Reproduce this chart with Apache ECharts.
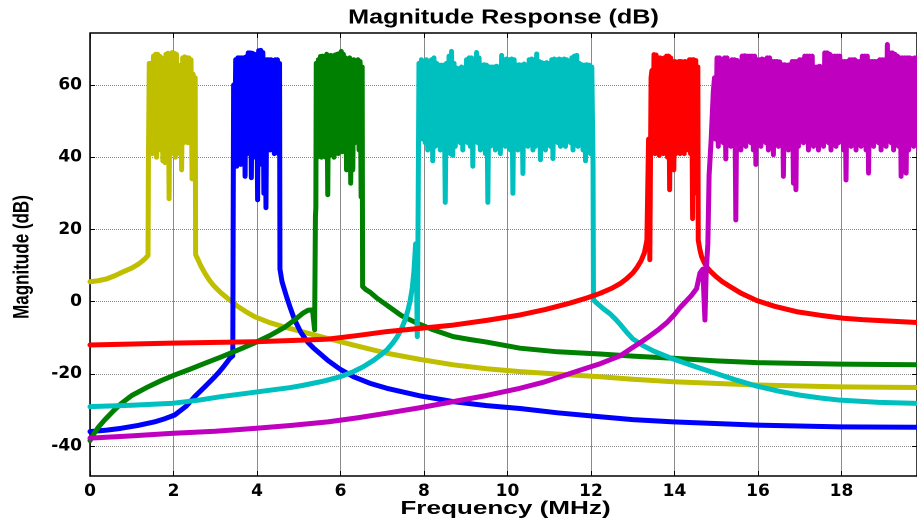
<!DOCTYPE html>
<html><head><meta charset="utf-8">
<script src="https://cdn.jsdelivr.net/npm/echarts@6/dist/echarts.min.js"></script>
<style>html,body{margin:0;padding:0;background:#fff}#c{width:917px;height:522px}</style>
</head><body><div id="c"></div>
<script>
// ---- data (frequency in MHz, magnitude in dB) ----
const xTicks = [0, 2, 4, 6, 8, 10, 12, 14, 16, 18];
const yTicks = [-40, -20, 0, 20, 40, 60];

const yellowLeft = [[0,5.5],[0.2,5.8],[0.4,6.3],[0.6,7.2],[0.8,8.3],[1.0,9.3],[1.15,10.3],[1.25,11.2],
  [1.33,12],[1.39,12.8],[1.40,40]];
const yellowPassRange = [1.42, 2.52];
const yellowPass = [66,42,66,41,68,44,68.5,40,68.5,45, 68,42,67.5,39,66.5,38.5,68.5,40,68.8,28.5,
  68.5,41,69,43,68.8,40,68.5,46,65.2,41, 65.5,36.5,67.5,44,67.8,45,67.5,44,67.5,46, 67,34,63,40,62];
const yellowRight = [[2.53,13],[2.58,11.8],[2.65,10],[2.75,7.9],[2.85,6.1],[2.95,4.6],[3.05,3.4],[3.14,2.4],
  [3.35,0.4],[3.55,-1.4],[3.75,-2.9],[3.95,-4.2],[4.3,-5.8],[4.74,-7.3],[5.2,-8.7],[5.6,-9.9],[6.3,-12],
  [7.11,-14.3],[7.9,-16],[8.7,-17.5],[9.5,-18.6],[10.3,-19.4],[11.5,-20.3],[12.22,-20.8],[13.0,-21.5],
  [13.97,-22.2],[15.97,-23.1],[17.97,-23.6],[19.85,-23.8]];

const blueLeft = [[0,-36],[0.4,-35.6],[0.74,-35.1],[1.15,-34.3],[1.55,-33.3],[1.8,-32.4],[2.03,-31.4],
  [2.3,-29],[2.51,-26.3],[2.75,-23.6],[2.99,-20.8],[3.1,-19.4],[3.2,-18],[3.3,-16.5],[3.35,-15.7],[3.42,-15]];
const bluePassRange = [3.44, 4.54];
const bluePass = [60,38,67,37.5,67.5,40,67.5,38,67.5,42, 67.5,34.7,67.8,41,68.9,43,68.9,34.3,68.8,40,
  68.5,44,66,28.2,69.5,38,69.6,41,69,30, 67,26,67,43,67,42,67,42.5,66.8,41, 67,44,67,41,66];
const blueRight = [[4.55,9],[4.6,5.5],[4.66,3.2],[4.71,1.3],[4.8,-1.8],[4.9,-5],[5.05,-8.5],[5.22,-11.3],
  [5.35,-12.8],[5.51,-14.4],[5.7,-16.3],[6.0,-18.8],[6.31,-20.8],[6.7,-22.6],[7.11,-24],[7.9,-26.1],
  [8.7,-27.7],[9.5,-28.8],[10.3,-29.6],[11.2,-30.8],[12.22,-31.9],[13.0,-32.7],[13.97,-33.3],[15.97,-34.2],
  [17.97,-34.7],[19.85,-34.8]];

const greenLeft = [[0,-38.5],[0.1,-36.5],[0.2,-34.8],[0.35,-32.8],[0.55,-30.4],[0.75,-28.2],[1.0,-26],
  [1.39,-23.6],[1.7,-21.9],[2.03,-20.3],[2.4,-18.7],[2.75,-17.1],[3.15,-15.3],[3.55,-13.4],[3.95,-11.4],
  [4.34,-9.2],[4.65,-7.2],[4.9,-5.1],[5.1,-3.2],[5.22,-2.4],[5.33,-2.3],[5.38,-7.8],[5.40,23.6],[5.41,26]];
const greenPassRange = [5.42, 6.52];
const greenPass = [66,40,67,41,67.9,40,68,42,67.9,40, 68.5,29.6,67.9,40.5,68.2,43,68,40,68.3,45,
  68.5,41,68.7,42,69.3,41.5,68.5,42,67.5,36.5, 67,41,67.5,32.8,66.8,36.5,67,44,66.5,45, 67,42,66.5,29,65];
const greenRight = [[6.53,4.2],[6.6,3.4],[6.71,2.6],[6.87,1.0],[7.1,-0.9],[7.45,-3.8],[7.8,-5.8],[8.22,-7.8],
  [8.7,-9.7],[9.1,-10.5],[9.5,-11.2],[10.3,-12.9],[11.2,-13.9],[12.22,-14.5],[13.0,-15.1],[13.97,-15.7],
  [15.0,-16.4],[15.97,-16.9],[17.97,-17.3],[19.85,-17.5]];

const cyanLeft = [[0,-29.1],[1.0,-28.7],[1.95,-28.2],[2.6,-27.3],[3.15,-26.3],[3.75,-25.4],[4.34,-24.5],
  [4.8,-23.8],[5.1,-23.2],[5.6,-22],[6.0,-20.8],[6.31,-19.4],[6.55,-18],[6.8,-16.2],[6.95,-14.9],
  [7.11,-13.4],[7.25,-11.5],[7.35,-9.9],[7.45,-7.8],[7.55,-5],[7.62,-2.2],[7.67,0.3],[7.72,3.8],
  [7.76,8.5],[7.8,16],[7.82,8],[7.84,-9.7],[7.86,25]];
const cyanPassRange = [7.88, 12.05];
const cyanPass = [
  66,47,67,45,66.5,44,67,42,66,44,
  67,39,67.5,43,66,44,65.5,42,65.5,45,
  65.5,27.5,66,44,68,41,69.3,40.5,66,43,
  64.7,45,64.5,44,65,42,64.7,46,67,44,
  67.5,43,67.5,37.5,67,45,69,44,67.5,42,
  65.5,46,65.6,41,65.5,27.5,65,43,65,44,
  65,42,65.2,45,65,41,68.2,46,67,43,
  67.2,44,67,42,67.2,30,67,44,65.5,42,
  65.6,43,65.5,35.5,65.8,45,65.5,43,67,44,
  67.2,42,67,43,68.6,45,66.5,39.3,66.2,44,
  66,42,66.2,45,66,43,67,39.6,67.2,45,
  67,44,67.2,43,67,46,67.2,43,67,45,
  66.5,44,67.5,42,68,45,68.2,43,66,44,
  65.6,42,65.5,39,65.6,43,65.5,41,65,38];
const cyanRight = [[12.06,0.5],[12.12,-0.2],[12.2,-1],[12.3,-2],[12.46,-3.4],[12.6,-5],[12.7,-6.3],
  [12.85,-8.4],[13.0,-10.3],[13.25,-12.2],[13.5,-13.7],[13.97,-15.9],[14.5,-18],[15.0,-19.9],[15.5,-21.8],
  [15.97,-23.4],[16.5,-24.8],[17.0,-25.9],[17.5,-26.7],[17.97,-27.3],[18.9,-27.9],[19.85,-28.2]];

const redLeft = [[0,-12],[1.95,-11.5],[3.95,-11.1],[5.0,-10.7],[5.7,-10.4],[6.4,-9.4],[7.11,-8.3],
  [7.9,-7.4],[8.7,-6.5],[9.5,-5.2],[10.3,-3.7],[10.9,-2.2],[11.5,-0.4],[11.9,1],[12.22,2.3],[12.5,3.7],
  [12.7,5],[12.85,6.3],[13.0,7.9],[13.1,9.4],[13.2,11.3],[13.28,13.5],[13.34,17],[13.38,45],[13.41,11.6],
  [13.44,62]];
const redPassRange = [13.46, 14.56];
const redPass = [64,42,68.4,41,68.3,42,67.5,40.5,67.5,43, 67.3,41,67.5,44,68,40,68,31,67.5,42,
  66.5,36.5,66.5,41,66.3,43,66.5,41,66.5,42, 66.4,41,66.5,44,66,42,67,41,67,23, 67,40,66.8,30,65];
const redRight = [[14.57,17],[14.61,14.4],[14.65,12.5],[14.71,10.9],[14.77,9.6],[14.88,8.2],[15.0,6.9],
  [15.15,5.5],[15.33,4.2],[15.6,2.3],[15.97,0.3],[16.4,-1.3],[16.93,-2.8],[17.5,-3.8],[18.05,-4.6],
  [18.5,-5],[19.0,-5.3],[19.85,-5.8]];

const magentaLeft = [[0,-37.8],[1.0,-37.2],[1.95,-36.5],[3.0,-35.9],[3.95,-35.1],[4.8,-34.3],[5.7,-33.3],
  [6.4,-32.2],[7.11,-30.9],[7.9,-29.4],[8.7,-27.7],[9.5,-26],[10.3,-24],[10.9,-22.2],[11.5,-19.9],
  [11.9,-18.4],[12.22,-17.2],[12.5,-15.9],[12.7,-15],[13.0,-12.7],[13.2,-11.2],[13.4,-9.6],[13.6,-7.9],
  [13.82,-5.8],[14.0,-3.6],[14.13,-1.7],[14.27,0],[14.4,1.6],[14.53,3.6],[14.61,7.9],[14.68,9],
  [14.73,-5.1],[14.76,8],[14.8,16],[14.83,35],[14.88,45],[14.93,58]];
const magentaPassRange = [14.96, 19.85];
const magentaPass = [
  62,45,67.5,43,67.5,46,67,44,67.5,39.5,
  67.5,45,65.6,43,67,46,67,22.6,66.8,44,
  65.6,42,68,45,68.1,43,68,46,68,44,
  68,42,68,38,67,45,67,43,67.2,46,
  67,44,67.5,42,67.5,45,66.5,40.7,66.5,44,
  66.5,43,66.4,46,65.6,34.7,65.6,44,65.5,42,
  65.6,45,66.5,32.8,66.5,31,66.5,43,67,45,
  67,44,68,46,68,42,68,45,68,43,
  65,44,65,42,65.2,45,65,43,68.9,46,
  68.9,44,68.5,42,68,45,68,43,68,44,
  68,46,66.5,42,66.5,33.7,66.5,44,67,43,
  67,45,67,42,66.5,44,66.5,43,68,45,
  68,42,68,35.6,66.5,44,66.5,43,66.5,45,
  66.5,44,67,42,67,45,67,43,71.2,46,
  68.9,44,68.9,42,68.5,45,68,43,67.5,34.7,
  67.5,44,67.5,35.6,67.5,42,67.5,45,67.3,43,
  67.5,44,67.5,42];
const magentaRight = [];

// ---- build series from the arrays ----
function build(left, range, vals, right) {
  const step = (range[1] - range[0]) / (vals.length - 1);
  return left.concat(vals.map((v, i) => [range[0] + i * step, v]), right);
}
const seriesDefs = [
  {name: 'Band 1', color: '#BFBF00', data: build(yellowLeft, yellowPassRange, yellowPass, yellowRight)},
  {name: 'Band 2', color: '#0000FF', data: build(blueLeft, bluePassRange, bluePass, blueRight)},
  {name: 'Band 3', color: '#008000', data: build(greenLeft, greenPassRange, greenPass, greenRight)},
  {name: 'Band 4', color: '#00BFBF', data: build(cyanLeft, cyanPassRange, cyanPass, cyanRight)},
  {name: 'Band 5', color: '#FF0000', data: build(redLeft, redPassRange, redPass, redRight)},
  {name: 'Band 6', color: '#BF00BF', data: build(magentaLeft, magentaPassRange, magentaPass, magentaRight)}
];

const X_MAX = 19.81, Y_MIN = -48.3, Y_MAX = 74.4;
const labelFont = {fontFamily: 'DejaVu Sans', fontWeight: 'bold', fontSize: 17, color: '#000'};
const axisLineStyle = {color: '#000', width: 1.5};
const tickStyle = {color: '#000', width: 1};

const chart = echarts.init(document.getElementById('c'), null, {renderer: 'canvas', devicePixelRatio: 2});
chart.setOption({
  animation: false,
  backgroundColor: '#fff',
  grid: {left: 90, right: 0, top: 33, bottom: 46},
  graphic: [
    {type: 'text', x: 503.5, y: 18, scaleX: 1.26, silent: true,
     style: {text: 'Magnitude Response (dB)', font: 'bold 20px "Liberation Sans"', fill: '#000',
             align: 'center', verticalAlign: 'middle', textAlign: 'center', textVerticalAlign: 'middle'}},
    {type: 'text', x: 505.5, y: 509, scaleX: 1.45, silent: true,
     style: {text: 'Frequency (MHz)', font: 'bold 18px "Liberation Sans"', fill: '#000',
             align: 'center', verticalAlign: 'middle', textAlign: 'center', textVerticalAlign: 'middle'}},
    {type: 'text', x: 22.5, y: 257, rotation: Math.PI / 2, scaleY: 1.3, silent: true,
     style: {text: 'Magnitude (dB)', font: 'bold 17px "Liberation Sans"', fill: '#000',
             align: 'center', verticalAlign: 'middle', textAlign: 'center', textVerticalAlign: 'middle'}}
  ],
  xAxis: [{
    type: 'value', min: 0, max: X_MAX, interval: 2,
    axisLine: {show: true, onZero: false, lineStyle: axisLineStyle},
    axisTick: {show: true, inside: true, length: 5, lineStyle: tickStyle},
    axisLabel: Object.assign({margin: 7, customValues: xTicks}, labelFont),
    splitLine: {show: true, lineStyle: {color: '#8a8a8a', width: 1}}
  }, {
    type: 'value', position: 'top', min: 0, max: X_MAX, interval: 2,
    axisLine: {show: true, onZero: false, lineStyle: axisLineStyle},
    axisTick: {show: true, inside: true, length: 5, lineStyle: tickStyle},
    axisLabel: {show: false}, splitLine: {show: false}
  }],
  yAxis: [{
    type: 'value', min: Y_MIN, max: Y_MAX,
    axisLine: {show: true, onZero: false, lineStyle: axisLineStyle},
    axisTick: {show: true, inside: true, length: 5, customValues: yTicks, lineStyle: tickStyle},
    axisLabel: Object.assign({margin: 8, customValues: yTicks}, labelFont),
    splitLine: {show: true, lineStyle: {color: '#8a8a8a', width: 1, type: 'dotted'}}
  }, {
    type: 'value', position: 'right', min: Y_MIN, max: Y_MAX,
    axisLine: {show: true, onZero: false, lineStyle: axisLineStyle},
    axisTick: {show: true, inside: true, length: 5, customValues: yTicks, lineStyle: tickStyle},
    axisLabel: {show: false}, splitLine: {show: false}
  }],
  series: seriesDefs.map((s, k) => ({
    type: 'line', name: s.name, data: s.data, xAxisIndex: 0, yAxisIndex: 0,
    showSymbol: false, symbol: 'none', clip: true, z: 2 + k,
    lineStyle: {color: s.color, width: 5, cap: 'round', join: 'round'},
    itemStyle: {color: s.color}, emphasis: {disabled: true}
  }))
});
</script>
</body></html>
